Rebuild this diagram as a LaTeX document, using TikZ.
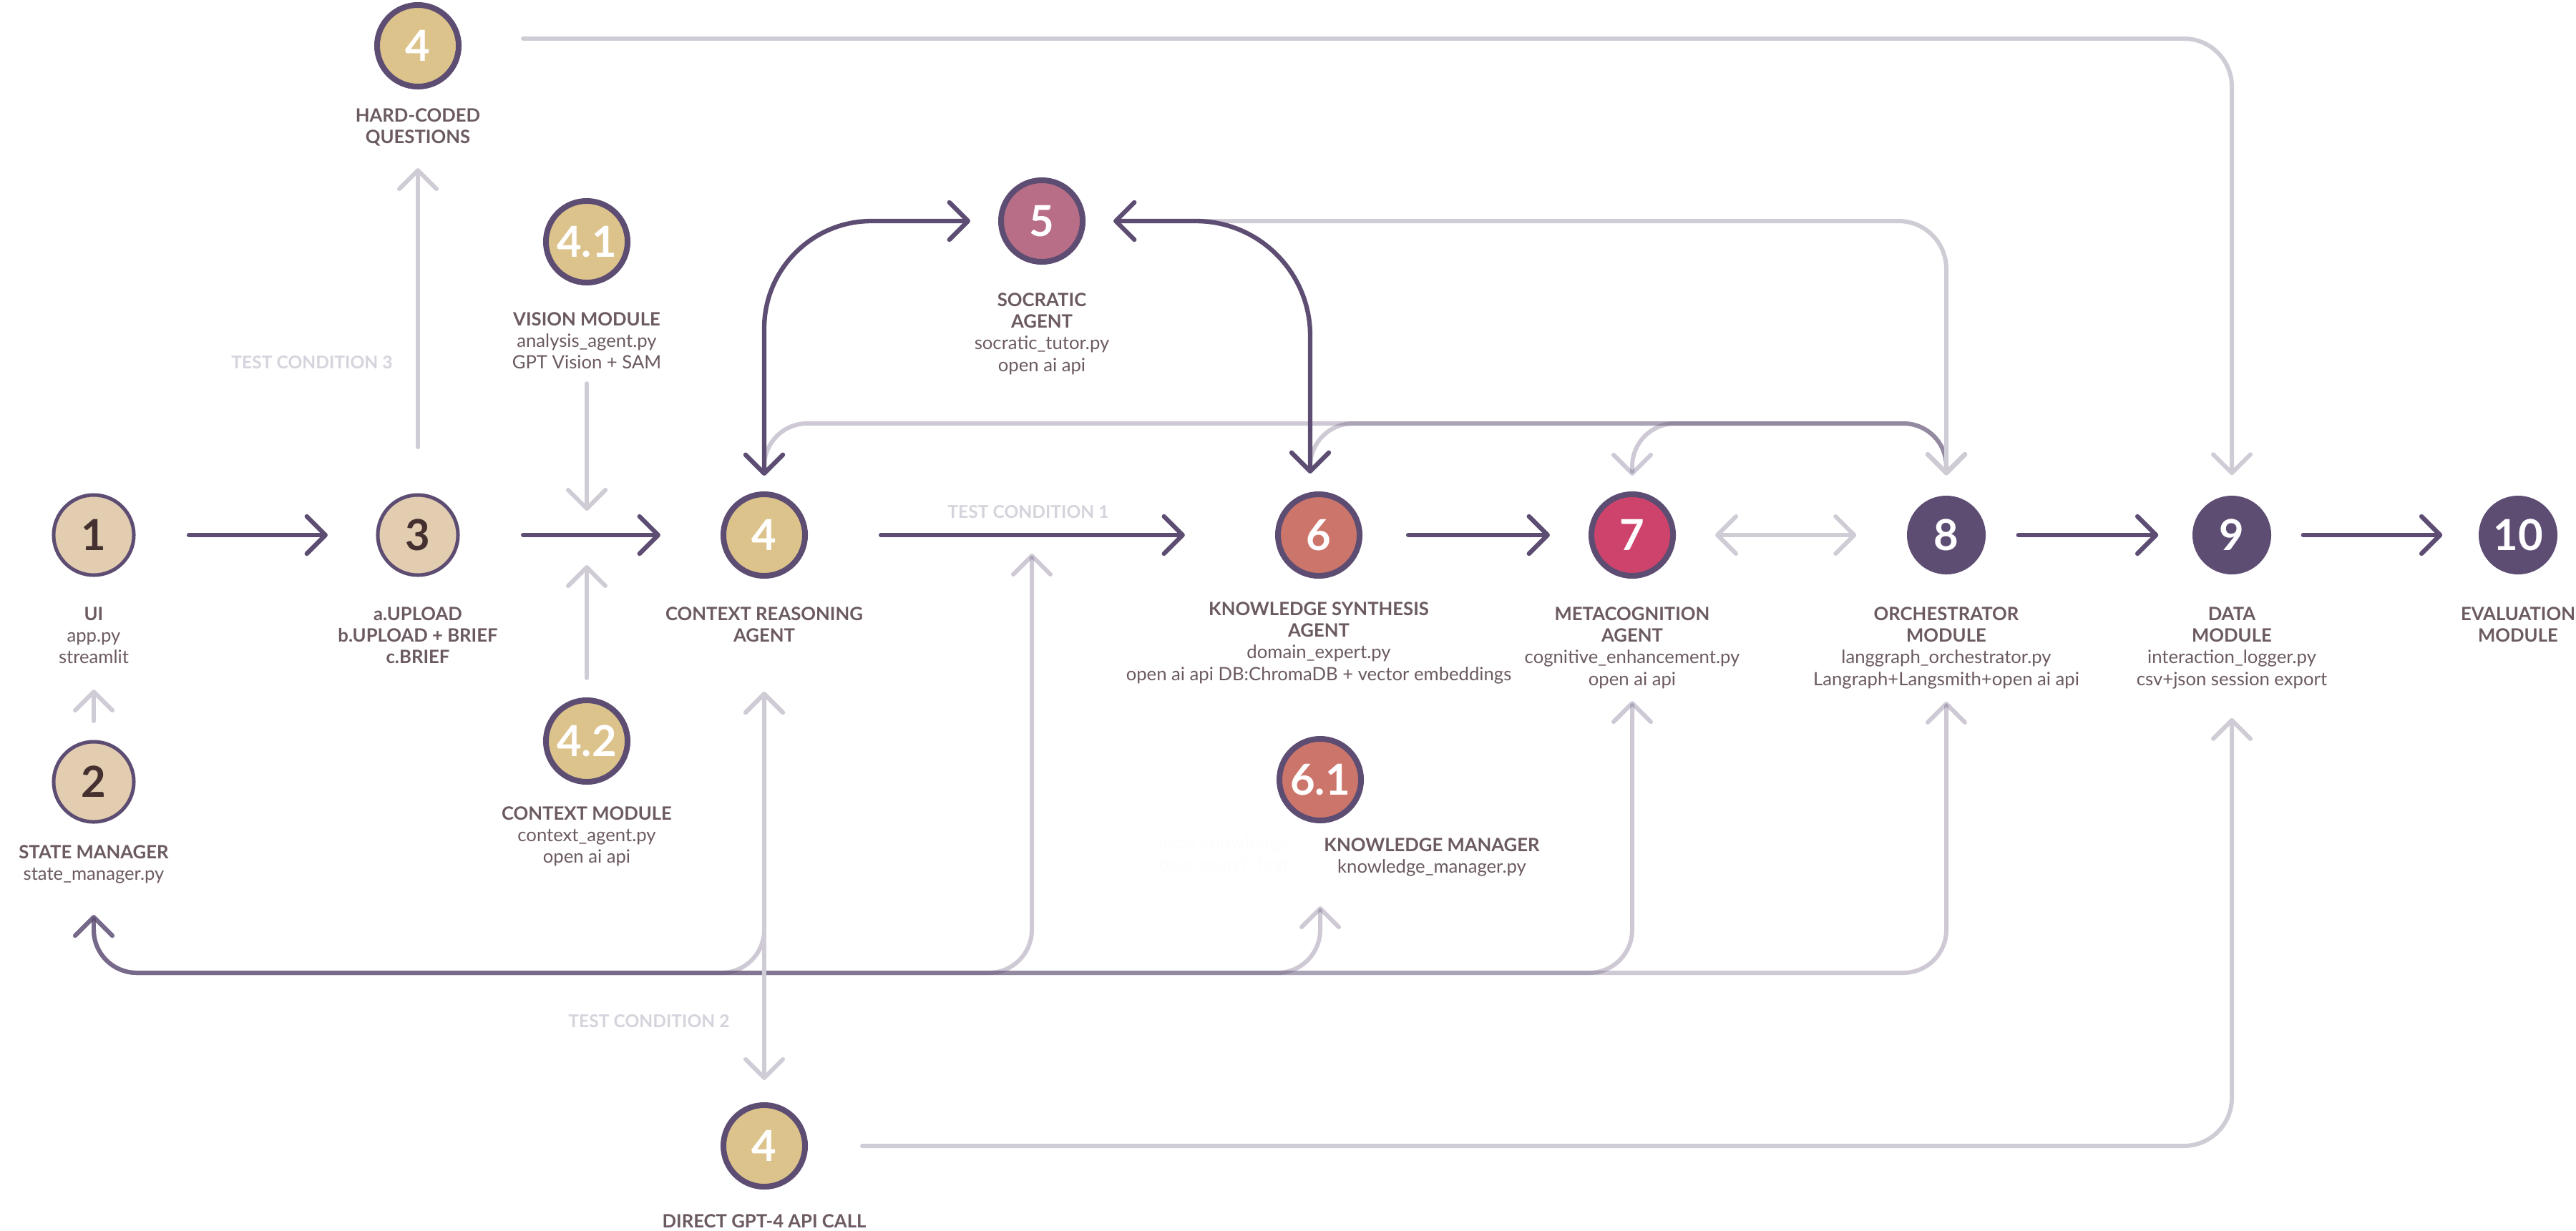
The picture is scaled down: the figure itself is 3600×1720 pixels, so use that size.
\documentclass[tikz,border=0pt]{standalone}
\usepackage{fontspec}
\setmainfont{Lato}
\usetikzlibrary{arrows.meta}
\definecolor{dkp}{HTML}{5D4D73}
\definecolor{lgr}{HTML}{CFCCD6}
\definecolor{beige}{HTML}{E2CDB1}
\definecolor{gold}{HTML}{DCC38C}
\definecolor{mauve}{HTML}{B86E87}
\definecolor{salmon}{HTML}{CC756B}
\definecolor{rasp}{HTML}{CE436B}
\definecolor{txt}{HTML}{6B5A61}
\definecolor{tcc}{HTML}{D6D3DC}
\definecolor{digdk}{HTML}{43302F}
\definecolor{ghost}{HTML}{FDFDFE}
\begin{document}
\begin{tikzpicture}[x=0.01cm, y=-0.01cm,
  >={Straight Barb[length=2.6mm,width=5.2mm,round]},
  circ/.style={circle, inner sep=0pt, font=\fontsize{17}{20}\selectfont\bfseries},
  nb/.style={circ, minimum size=1.12cm, fill=beige, draw=dkp, line width=0.05cm, text=digdk},
  ng/.style={circ, minimum size=1.14cm, fill=#1, draw=dkp, line width=0.08cm, text=white},
  nd/.style={circ, minimum size=1.10cm, fill=dkp, text=white},
  lbl/.style={anchor=north, align=center, text=txt, font=\fontsize{7.3}{8.6}\selectfont, inner sep=0pt},
  dk/.style={draw=dkp, line width=1.8pt, line cap=round},
  lite/.style={draw=lgr, line width=1.7pt, line cap=round},
  bus/.style={draw=dkp, draw opacity=0.3, line width=1.7pt, line cap=round, rounded corners=0.6cm},
  tc/.style={text=tcc, font=\fontsize{7}{8}\selectfont\bfseries, inner sep=0pt}
]
\fill[white] (0,0) rectangle (3600,1720);
\useasboundingbox (0,0) rectangle (3600,1720);

% ---- nodes ----
\node[ng=gold] (n4a) at (584,64) {4};
\node[ng=gold] (n41) at (820,338) {4.1};
\node[ng=mauve] (n5) at (1456,309) {5};
\node[nb] (n1) at (131,748) {1};
\node[nb] (n3) at (584,748) {3};
\node[ng=gold] (n4) at (1068,748) {4};
\node[ng=salmon] (n6) at (1843,748) {6};
\node[ng=rasp] (n7) at (2281,748) {7};
\node[nd] (n8) at (2720,748) {8};
\node[nd] (n9) at (3119,748) {9};
\node[nd] (n10) at (3519,748) {10};
\node[nb] (n2) at (131,1093) {2};
\node[ng=gold] (n42) at (820,1036) {4.2};
\node[ng=salmon] (n61) at (1845,1090) {6.1};
\node[ng=gold] (ngpt) at (1068,1602) {4};

% ---- labels ----
\node[lbl] (l4a) at (584,151) {\textbf{HARD-CODED}\\\textbf{QUESTIONS}};
\node[lbl] (l41) at (820,436) {\textbf{VISION MODULE}\\analysis\_agent.py\\GPT Vision + SAM};
\node[lbl] (l5) at (1456,409) {\textbf{SOCRATIC}\\\textbf{AGENT}\\socratic\_tutor.py\\open ai api};
\node[lbl] (l1) at (131,848) {\textbf{UI}\\app.py\\streamlit};
\node[lbl] (l3) at (584,848) {\textbf{a.UPLOAD}\\\textbf{b.UPLOAD + BRIEF}\\\textbf{c.BRIEF}};
\node[lbl] (l4) at (1068,848) {\textbf{CONTEXT REASONING}\\\textbf{AGENT}};
\node[lbl] (l6) at (1843,841) {\textbf{KNOWLEDGE SYNTHESIS}\\\textbf{AGENT}\\domain\_expert.py\\open ai api DB:ChromaDB + vector embeddings};
\node[lbl] (l7) at (2281,848) {\textbf{METACOGNITION}\\\textbf{AGENT}\\cognitive\_enhancement.py\\open ai api};
\node[lbl] (l8) at (2720,848) {\textbf{ORCHESTRATOR}\\\textbf{MODULE}\\langgraph\_orchestrator.py\\Langraph+Langsmith+open ai api};
\node[lbl] (l9) at (3119,848) {\textbf{DATA}\\\textbf{MODULE}\\interaction\_logger.py\\csv+json session export};
\node[lbl] (l10) at (3519,848) {\textbf{EVALUATION}\\\textbf{MODULE}};
\node[lbl] (l42) at (820,1127) {\textbf{CONTEXT MODULE}\\context\_agent.py\\open ai api};
\node[lbl] (l2) at (131,1181) {\textbf{STATE MANAGER}\\state\_manager.py};
\node[lbl] (l61) at (2001,1171) {\textbf{KNOWLEDGE MANAGER}\\knowledge\_manager.py};
\node[lbl, text=ghost] (lhid) at (1710,1168) {local knowledge\\base search first};
\node[lbl] (lgpt) at (1068,1697) {\textbf{DIRECT GPT-4 API CALL}};
\node[tc] (tc3) at (436,507) {TEST CONDITION 3};
\node[tc] (tc1) at (1437,716) {TEST CONDITION 1};
\node[tc] (tc2) at (907,1428) {TEST CONDITION 2};

% ---- helper coordinates ----
\coordinate (j41) at (820,748);
\coordinate (jtc1) at (1442,748);
\coordinate (tb4) at (1068,592);
\coordinate (tb6) at (1831,592);
\coordinate (tb7) at (2281,592);
\coordinate (bb2) at (131,1360);
\coordinate (n6n) at ([xshift=-0.12cm]n6.north);

% ---- bottom bus (to state manager) ----
\draw[bus, <->, shorten <=1.58cm, shorten >=1.275cm] (n4) |- (bb2) -- (n2);
\draw[bus, <->, shorten <=0.26cm, shorten >=1.275cm] (jtc1) |- (bb2) -- (n2);
\draw[bus, <->, shorten <=1.16cm, shorten >=1.275cm] (n61) |- (bb2) -- (n2);
\draw[bus, <->, shorten <=1.71cm, shorten >=1.275cm] (n7) |- (bb2) -- (n2);
\draw[bus, <->, shorten <=1.77cm, shorten >=1.275cm] (n8) |- (bb2) -- (n2);

% ---- top bus (from orchestrator) ----
\draw[bus, <->, shorten <=0.28cm, shorten >=0.22cm] (n8) |- (tb4) -- (n4);
\draw[bus, <->, shorten <=0.28cm, shorten >=0.25cm] (n8) |- (tb6) -- (n6n);
\draw[bus, <->, shorten <=0.28cm, shorten >=0.22cm] (n8) |- (tb7) -- (n7);

% ---- light connectors ----
\draw[lite, ->, rounded corners=0.67cm, shorten <=0.86cm, shorten >=0.28cm] ([yshift=0.1cm]n4a.east) -| (n9.north);
\draw[lite, ->, rounded corners=0.67cm, shorten <=0.76cm, shorten >=2.0cm] (ngpt.east) -| (n9.south);
\draw[lite, <->, rounded corners=0.67cm, shorten <=0.39cm, shorten >=0.28cm] (n5) -| (n8);
\draw[lite, ->, shorten <=0.645cm, shorten >=1.10cm] (n3) -- (n4a);
\draw[lite, ->, shorten <=1.37cm, shorten >=0.34cm] (n41) -- (j41);
\draw[lite, ->, shorten <=0.27cm, shorten >=0.42cm] (n42) -- (j41);
\draw[lite, ->, shorten <=0.265cm, shorten >=1.575cm] (n2) -- (n1);
\draw[lite, <->, shorten <=1.58cm, shorten >=0.31cm] (n4) -- (ngpt);
\draw[lite, <->, shorten <=0.55cm, shorten >=0.70cm] (n7) -- (n8);

% ---- dark connectors ----
\draw[dk, <->, rounded corners=1.5cm, shorten <=0.22cm, shorten >=0.39cm] (n4) |- (n5);
\draw[dk, <->, rounded corners=1.6cm, shorten <=0.39cm, shorten >=0.25cm] (n5) -| (n6n);
\draw[dk, ->, shorten <=0.745cm, shorten >=0.675cm] (n1) -- (n3);
\draw[dk, ->, shorten <=0.885cm, shorten >=0.84cm] (n3) -- (n4);
\draw[dk, ->, shorten <=1.02cm, shorten >=1.26cm] (n4) -- (n6);
\draw[dk, ->, shorten <=0.64cm, shorten >=0.54cm] (n6) -- (n7);
\draw[dk, ->, shorten <=0.45cm, shorten >=0.47cm] (n8) -- (n9);
\draw[dk, ->, shorten <=0.44cm, shorten >=0.50cm] (n9) -- (n10);
\end{tikzpicture}
\end{document}
